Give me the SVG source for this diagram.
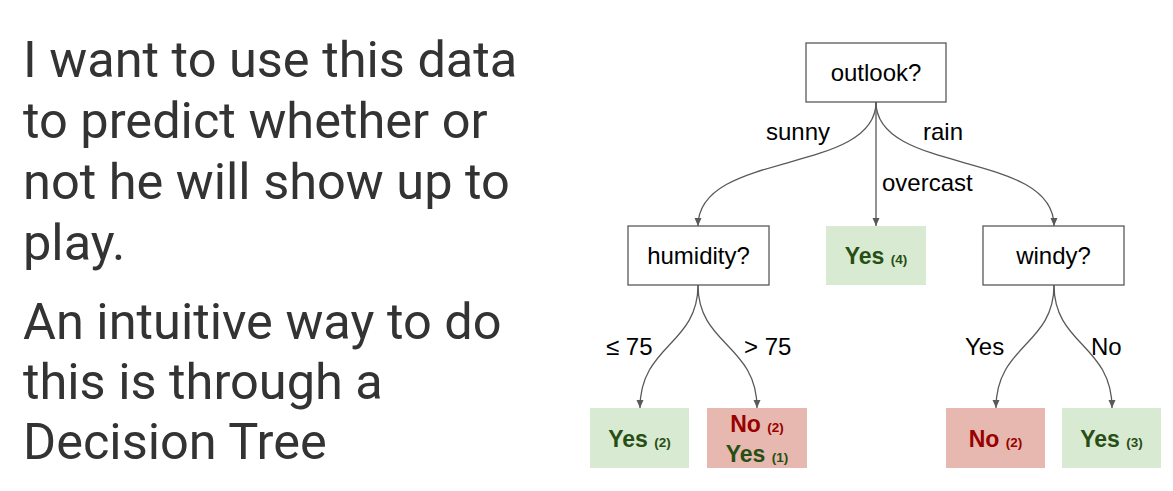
<svg xmlns="http://www.w3.org/2000/svg" width="1173" height="491" viewBox="0 0 1173 491">
<style>
.body{font-family:Roboto,"Liberation Sans",sans-serif;font-size:50.5px;fill:#333333}
.q{fill:#ffffff;stroke:#595959;stroke-width:1.3}
.qt{font-family:"Liberation Sans",Arial,sans-serif;font-size:24px;fill:#000000;text-anchor:middle}
.lbl{font-family:"Liberation Sans",Arial,sans-serif;font-size:24px;fill:#000000}
.g{fill:#d9ead3}
.r{fill:#e6b8af}
.lt{font-family:"Liberation Sans",Arial,sans-serif;font-weight:bold;font-size:23px;text-anchor:middle}
.gt{fill:#274e13}
.rt{fill:#990000}
.sm{font-size:13.5px}
.c{fill:none;stroke:#595959;stroke-width:1.3;marker-end:url(#ah)}
</style>
<defs>
<marker id="ah" markerUnits="userSpaceOnUse" markerWidth="10" markerHeight="10" refX="8" refY="3.5" orient="auto">
<path d="M0,0 L8,3.5 L0,7 z" fill="#595959"/>
</marker>
</defs>
<rect width="1173" height="491" fill="#ffffff"/>
<g id="text-left">
<text class="body" x="23" y="77">I want to use this data</text>
<text class="body" x="23" y="138">to predict whether or</text>
<text class="body" x="23" y="199">not he will show up to</text>
<text class="body" x="23" y="260">play.</text>
<text class="body" x="23" y="339">An intuitive way to do</text>
<text class="body" x="23" y="399">this is through a</text>
<text class="body" x="23" y="459">Decision Tree</text>
</g>
<g id="connectors">
<path class="c" d="M876,102 C876,175 698,150 698,226"/>
<path class="c" d="M876,102 L876,226"/>
<path class="c" d="M876,102 C876,175 1054,150 1054,226"/>
<path class="c" d="M698,285 C698,345 640,345 640,408"/>
<path class="c" d="M698,285 C698,345 757,345 757,408"/>
<path class="c" d="M1054,285 C1054,345 996,345 996,408"/>
<path class="c" d="M1054,285 C1054,345 1112,345 1112,408"/>
<text class="lbl" x="766" y="140">sunny</text>
<text class="lbl" x="923" y="140">rain</text>
<text class="lbl" x="882" y="191">overcast</text>
<text class="lbl" x="606" y="355">≤ 75</text>
<text class="lbl" x="744" y="355">&gt; 75</text>
<text class="lbl" x="965" y="355">Yes</text>
<text class="lbl" x="1091" y="355">No</text>
</g>
<g id="outlook">
<rect class="q" x="806" y="43" width="140" height="59"/>
<text class="qt" x="876" y="81">outlook?</text>
</g>
<g id="humidity">
<rect class="q" x="628" y="226" width="141" height="59"/>
<text class="qt" x="698.5" y="264">humidity?</text>
</g>
<g id="yes4">
<rect class="g" x="826" y="226" width="100" height="59"/>
<text class="lt gt" x="876" y="264">Yes <tspan class="sm">(4)</tspan></text>
</g>
<g id="windy">
<rect class="q" x="983" y="226" width="141" height="59"/>
<text class="qt" x="1053.5" y="264">windy?</text>
</g>
<g id="yes2">
<rect class="g" x="590" y="408" width="99" height="60"/>
<text class="lt gt" x="639.5" y="447">Yes <tspan class="sm">(2)</tspan></text>
</g>
<g id="no2yes1">
<rect class="r" x="707" y="408" width="100" height="60"/>
<text class="lt rt" x="757" y="432">No <tspan class="sm">(2)</tspan></text>
<text class="lt gt" x="757" y="462">Yes <tspan class="sm">(1)</tspan></text>
</g>
<g id="no2">
<rect class="r" x="946" y="408" width="99" height="60"/>
<text class="lt rt" x="995.5" y="447">No <tspan class="sm">(2)</tspan></text>
</g>
<g id="yes3">
<rect class="g" x="1062" y="408" width="99" height="60"/>
<text class="lt gt" x="1111.5" y="447">Yes <tspan class="sm">(3)</tspan></text>
</g>
</svg>
